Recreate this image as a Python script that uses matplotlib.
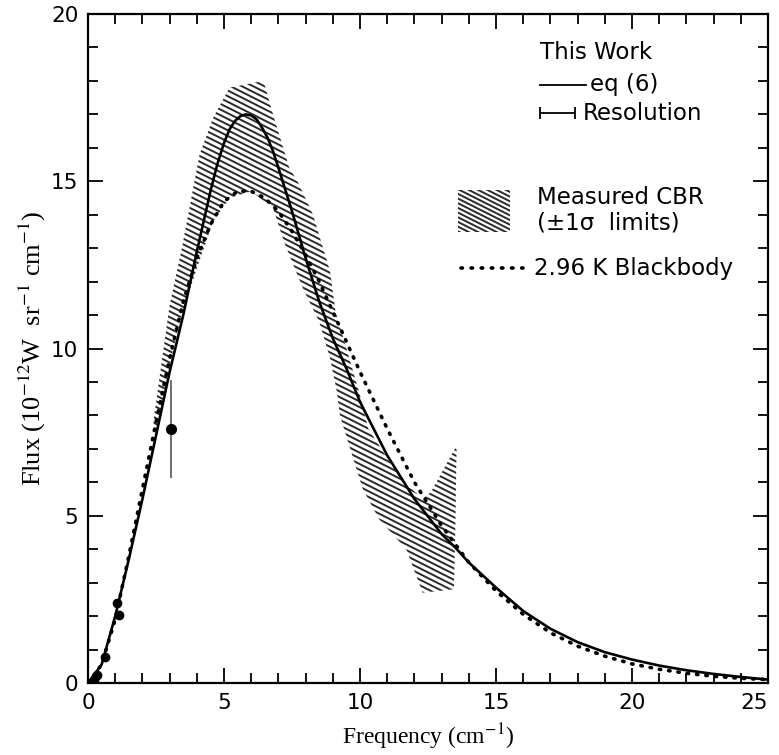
import numpy as np
import matplotlib
matplotlib.use('Agg')
import matplotlib.pyplot as plt
from matplotlib.patches import Polygon, Rectangle
from matplotlib.collections import LineCollection
from matplotlib.ticker import MultipleLocator

plt.rcParams['font.family'] = ['DejaVu Sans']
plt.rcParams['mathtext.fontset'] = 'stix'

# eq (6) curve
freq_eq = [0, 0.5, 1, 1.5, 2, 2.5, 3, 3.5, 4, 4.5, 4.75, 5, 5.2, 5.4, 5.6, 5.8, 6.0,
           6.2, 6.4, 6.6, 6.8, 7, 7.5, 8, 8.5, 9, 9.5, 10, 10.5, 11, 12, 13, 13.5,
           14, 15, 16, 17, 18, 19, 20, 21, 22, 23, 24, 25]
flux_eq = [0, 0.55, 2.0, 3.7, 5.5, 7.4, 9.3, 11.0, 12.9, 14.7, 15.5, 16.15, 16.55,
           16.8, 16.95, 17.0, 16.97, 16.85, 16.6, 16.3, 15.9, 15.4, 14.1, 12.7,
           11.4, 10.3, 9.4, 8.4, 7.6, 6.8, 5.5, 4.45, 4.05, 3.6, 2.85, 2.15, 1.62,
           1.22, 0.92, 0.7, 0.52, 0.38, 0.27, 0.18, 0.1]

# 2.96 K blackbody (dotted)
freq_bb = [0, 0.5, 1, 1.5, 2, 2.5, 3, 3.5, 4, 4.5, 5, 5.5, 6, 6.5, 7, 7.5, 8, 8.5,
           9, 9.5, 10, 11, 12, 13, 14, 15, 16, 17, 18, 19, 20, 21, 22, 23, 24, 25]
flux_bb = [0, 0.55, 1.9, 3.8, 5.8, 7.8, 9.7, 11.4, 12.7, 13.7, 14.4, 14.7, 14.7,
           14.5, 14.1, 13.5, 12.8, 12.0, 11.1, 10.2, 9.3, 7.6, 6.0, 4.7, 3.6, 2.75,
           2.05, 1.5, 1.1, 0.8, 0.57, 0.41, 0.29, 0.2, 0.14, 0.1]

# measured CBR +-1 sigma band outline
band_x = [2.4, 3.0, 3.45, 4.1, 4.6, 5.2, 6.45, 6.8, 7.4, 7.7, 8.27, 8.9, 9.1, 9.5,
          10.0, 10.3, 10.7, 11.5, 12.3, 12.6, 13.55, 13.5, 13.45, 12.3, 11.7, 10.7,
          10.1, 9.6, 9.26, 9.15, 8.9, 8.5, 7.9, 7.2, 6.8, 6.0, 5.2, 4.6, 4.0, 3.4,
          3.0, 2.5]
band_y = [7.8, 11.3, 13.0, 15.8, 16.9, 17.8, 18.0, 17.0, 15.4, 15.0, 14.0, 12.3,
          11.1, 10.0, 8.6, 7.6, 7.1, 6.1, 5.5, 5.7, 7.1, 4.5, 2.8, 2.7, 4.0, 4.9,
          5.8, 7.1, 8.0, 8.7, 9.7, 10.8, 11.8, 13.2, 14.2, 14.7, 14.5, 13.8, 12.4,
          10.9, 9.5, 7.5]

# low frequency measurements
pts_x = [0.22, 0.33, 0.62, 1.07, 1.14]
pts_y = [0.1, 0.24, 0.78, 2.39, 2.03]
err_x = [3.05]
err_y = [7.6]
err_lo = [1.47]
err_hi = [1.46]

x_ticks = [0, 5, 10, 15, 20, 25]
y_ticks = [0, 5, 10, 15, 20]


def hatch(ax, clip, slope=-0.41, step=0.17, lw=1.4):
    c = np.arange(-5, 35, step)
    segs = [[(-1, ci - slope), (27, ci + slope * 27)] for ci in c]
    lc = LineCollection(segs, colors='#2a2a2a', linewidths=lw, zorder=1)
    ax.add_collection(lc, autolim=False)
    lc.set_clip_path(clip)


fig = plt.figure(figsize=(7.79, 7.55), dpi=100)
ax = fig.add_axes([0.113, 0.0954, 0.873, 0.886])

band = Polygon(np.column_stack([band_x, band_y]), closed=True,
               facecolor='none', edgecolor='none')
ax.add_patch(band)
hatch(ax, band)

ax.plot(freq_eq, flux_eq, color='k', lw=1.9, zorder=3)
ax.plot(freq_bb, flux_bb, color='k', lw=2.6, linestyle=(0, (0.4, 2.2)),
        dash_capstyle='round', zorder=3)
ax.plot(pts_x, pts_y, 'o', color='k', ms=6, zorder=4)
ax.errorbar(err_x, err_y, yerr=[err_lo, err_hi], fmt='o', color='k', ms=7,
            ecolor='#555555', elinewidth=1.2, capsize=0, zorder=4)

# legend drawn by hand
tfs = 16.5
ax.text(16.6, 18.86, 'This Work', fontsize=tfs, va='center', ha='left')
ax.plot([16.6, 18.3], [17.88, 17.88], color='k', lw=1.3)
ax.text(18.45, 17.88, 'eq (6)', fontsize=tfs, va='center', ha='left')
ax.errorbar([17.25], [17.04], xerr=[0.65], color='k', lw=1.3, capsize=4,
            capthick=1.3, fmt='none')
ax.text(18.2, 17.04, 'Resolution', fontsize=tfs, va='center', ha='left')
box = Rectangle((13.6, 13.48), 1.9, 1.26, facecolor='none', edgecolor='none')
ax.add_patch(box)
hatch(ax, box, step=0.14)
ax.text(16.5, 14.52, 'Measured CBR', fontsize=tfs, va='center', ha='left')
ax.text(16.5, 13.76, '(\u00b11\u03c3  limits)', fontsize=tfs, va='center', ha='left')
ax.plot([13.7, 16.0], [12.4, 12.4], color='k', lw=2.6, linestyle=(0, (0.4, 2.4)),
        dash_capstyle='round')
ax.text(16.4, 12.4, '2.96 K Blackbody', fontsize=tfs, va='center', ha='left')

ax.set_xlim(0, 25)
ax.set_ylim(0, 20)
ax.set_xticks(x_ticks)
xl = ax.set_xticklabels([str(t) for t in x_ticks])
xl[-1].set_horizontalalignment('right')
ax.set_yticks(y_ticks)
ax.xaxis.set_minor_locator(MultipleLocator(1))
ax.yaxis.set_minor_locator(MultipleLocator(1))
ax.tick_params(which='both', direction='in', top=True, right=True, width=1.3)
ax.tick_params(which='major', length=11, labelsize=15.5, pad=7)
ax.tick_params(which='minor', length=7)
for s in ax.spines.values():
    s.set_linewidth(1.6)

ax.set_xlabel('Frequency (cm$^{-1}$)', family='Liberation Serif', fontsize=17,
              labelpad=6)
ax.set_ylabel('Flux (10$^{-12}$W  sr$^{-1}$ cm$^{-1}$)', family='Liberation Serif',
              fontsize=19, labelpad=2)

fig.savefig('out.png', dpi=100)
